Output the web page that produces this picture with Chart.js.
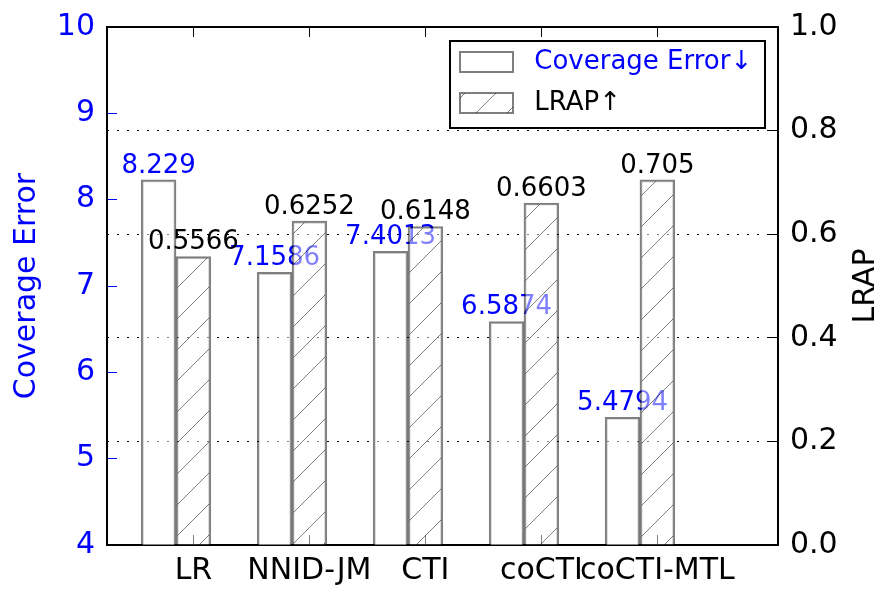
<!DOCTYPE html>
<html>
<head>
<meta charset="utf-8">
<script src="https://cdn.jsdelivr.net/npm/chart.js@4.4.1/dist/chart.umd.min.js"></script>
<style>
  html, body { margin: 0; padding: 0; background: #fff; }
  canvas { display: block; }
</style>
</head>
<body>
<canvas id="myChart" width="877" height="592"></canvas>
<script>
const methods = ['LR', 'NNID-JM', 'CTI', 'coCTI', 'coCTI-MTL'];
const coverageError = [8.229, 7.1586, 7.4013, 6.5874, 5.4794];
const lrap = [0.5566, 0.6252, 0.6148, 0.6603, 0.705];
const coverageTicks = [4, 5, 6, 7, 8, 9, 10];
const lrapTicks = [0.0, 0.2, 0.4, 0.6, 0.8, 1.0];
const legendNames = ['Coverage Error\u2193', 'LRAP\u2191'];

const FONT = 'DejaVu Sans';
const BLUE = '#0000ff';
const EDGE = 'rgba(0, 0, 0, 0.5)';
const FILL = 'rgba(255, 255, 255, 0.5)';
const BAR_W = 0.3;

// '/' hatch for the LRAP bars
function makeHatch() {
  const s = 31;
  const c = document.createElement('canvas');
  c.width = s;
  c.height = s;
  const g = c.getContext('2d');
  g.fillStyle = FILL;
  g.fillRect(0, 0, s, s);
  g.strokeStyle = 'rgba(0, 0, 0, 0.5)';
  g.lineWidth = 1;
  g.beginPath();
  g.moveTo(-2, s + 2);
  g.lineTo(s + 2, -2);
  g.stroke();
  return g.createPattern(c, 'repeat');
}
const hatch = makeHatch();

// numbers above the bars, drawn right after each dataset
const valueLabels = {
  id: 'valueLabels',
  afterDatasetDraw(chart, args) {
    const ds = chart.data.datasets[args.index];
    const ctx = chart.ctx;
    ctx.save();
    ctx.font = '26px "' + FONT + '"';
    ctx.fillStyle = ds.labelColor;
    ctx.textAlign = 'center';
    ctx.textBaseline = 'bottom';
    args.meta.data.forEach((bar, i) => {
      ctx.fillText(String(ds.values[i]), bar.x, bar.y - 1);
    });
    ctx.restore();
  }
};

// move legend to upper right and frame it, right axis title
const extras = {
  id: 'extras',
  afterLayout(chart) {
    const lg = chart.legend;
    lg.left = 445;
    lg.top = 34;
    lg.right = lg.left + lg.width;
    lg.bottom = lg.top + lg.height;
  },
  afterDraw(chart) {
    const ctx = chart.ctx;
    ctx.save();
    ctx.strokeStyle = '#000';
    ctx.lineWidth = 2;
    ctx.strokeRect(450, 41, 315, 87);
    ctx.translate(866, (chart.chartArea.top + chart.chartArea.bottom) / 2);
    ctx.rotate(-Math.PI / 2);
    ctx.font = '30px "' + FONT + '"';
    ctx.fillStyle = '#000';
    ctx.textAlign = 'center';
    ctx.textBaseline = 'middle';
    ctx.fillText('LRAP', 0, 0);
    ctx.restore();
  }
};

const font = { family: FONT, size: 26 };
const tickFont = { family: FONT, size: 30 };
const xTicks = (s) => { s.ticks = methods.map((m, i) => ({ value: i + BAR_W / 2 })); };
const noPad = (s) => { s.paddingTop = 0; s.paddingBottom = 0; s.paddingLeft = 0; s.paddingRight = 0; };

const config = {
  type: 'bar',
  data: {
    datasets: [{
      label: 'Coverage Error',
      data: coverageError.map((v, i) => ({ x: i - BAR_W / 2, y: v })),
      values: coverageError,
      labelColor: BLUE,
      xAxisID: 'x',
      yAxisID: 'y',
      backgroundColor: FILL,
      borderColor: EDGE,
      borderWidth: 2,
      grouped: false,
      barPercentage: 1,
      categoryPercentage: 1,
      order: 1
    }, {
      label: 'LRAP',
      data: lrap.map((v, i) => ({ x: i + BAR_W / 2, y: v })),
      values: lrap,
      labelColor: '#000',
      xAxisID: 'x',
      yAxisID: 'y1',
      backgroundColor: hatch,
      borderColor: EDGE,
      borderWidth: 2,
      grouped: false,
      barPercentage: 1,
      categoryPercentage: 1,
      order: 0
    }]
  },
  options: {
    responsive: false,
    animation: false,
    devicePixelRatio: 1,
    layout: { padding: { top: 27, left: 0, right: 0, bottom: 0 } },
    plugins: {
      tooltip: { enabled: false },
      legend: {
        position: 'chartArea',
        align: 'start',
        labels: {
          boxWidth: 53,
          boxHeight: 20,
          padding: 15,
          font: font,
          generateLabels(chart) {
            const items = Chart.defaults.plugins.legend.labels.generateLabels(chart);
            items.sort((a, b) => a.datasetIndex - b.datasetIndex);
            items.forEach(it => {
              it.text = ' ' + legendNames[it.datasetIndex];
              it.fontColor = it.datasetIndex === 0 ? BLUE : '#000';
              it.lineWidth = 2;
            });
            return items;
          }
        }
      }
    },
    scales: {
      x: {
        type: 'linear',
        position: 'bottom',
        weight: 0,
        min: -0.595,
        max: 5.19,
        offset: false,
        grid: { drawOnChartArea: false, offset: false, tickLength: -10, tickColor: '#000', tickWidth: 1, tickBorderDash: [] },
        border: { color: '#000', width: 2 },
        ticks: {
          font: tickFont, color: '#000', padding: 18, maxRotation: 0, minRotation: 0, autoSkip: false,
          callback: (v, i) => methods[i]
        },
        afterBuildTicks: xTicks,
        afterFit: (s) => { s.height = 47; noPad(s); }
      },
      xTop: {
        type: 'linear',
        position: 'top',
        min: -0.595,
        max: 5.19,
        offset: false,
        grid: { drawOnChartArea: false, offset: false, tickLength: -10, tickColor: '#000', tickWidth: 1, tickBorderDash: [] },
        border: { color: '#000', width: 2 },
        ticks: { display: false },
        afterBuildTicks: xTicks,
        afterFit: (s) => { s.height = 0; noPad(s); }
      },
      y: {
        position: 'left',
        min: 4,
        max: 10,
        afterBuildTicks: (s) => { s.ticks = coverageTicks.map(v => ({ value: v })); },
        grid: { drawOnChartArea: false, tickLength: -10, tickColor: BLUE, tickWidth: 1, tickBorderDash: [] },
        border: { color: '#000', width: 2 },
        ticks: { color: BLUE, font: tickFont, padding: 22 },
        title: { display: true, text: 'Coverage Error', color: BLUE, font: tickFont, padding: { top: 9, bottom: 0 } },
        afterFit: (s) => { s.width = 107; noPad(s); }
      },
      y1: {
        position: 'right',
        min: 0,
        max: 1,
        afterBuildTicks: (s) => { s.ticks = lrapTicks.map(v => ({ value: v })); },
        grid: {
          drawOnChartArea: true,
          color: (c) => (c.tick && (c.tick.value === 0 || c.tick.value === 1)) ? 'rgba(0,0,0,0)' : '#000',
          lineWidth: 1,
          tickLength: -10,
          tickColor: '#000',
          tickWidth: 1,
          tickBorderDash: []
        },
        border: { color: '#000', width: 2, dash: [2, 8] },
        ticks: { color: '#000', font: tickFont, padding: 22, callback: (v) => Number(v).toFixed(1) },
        afterFit: (s) => { s.width = 99; noPad(s); }
      }
    }
  },
  plugins: [valueLabels, extras]
};

const myChart = new Chart(document.getElementById('myChart'), config);
</script>
</body>
</html>
